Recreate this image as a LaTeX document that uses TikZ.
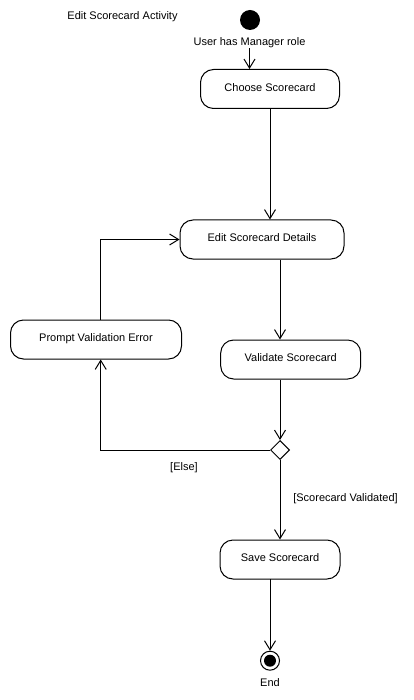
\documentclass[tikz,border=0pt]{standalone}
\usepackage{fontspec}
\setmainfont{Liberation Sans}
\usetikzlibrary{arrows.meta,shapes.geometric,calc}
\begin{document}
\begin{tikzpicture}[x=1pt,y=-1pt,
  every node/.style={font=\fontsize{11}{13}\selectfont, inner sep=0pt},
  act/.style={draw, line width=1pt, rounded corners=13pt, minimum height=39pt},
  flow/.style={draw, line width=1pt, -{Straight Barb[length=9pt,width=11pt,line width=1pt]}},
  plain/.style={draw, line width=1pt},
  lbl/.style={fill=white}
]
\useasboundingbox (0,0) rectangle (414,700);
\fill[white] (0,0) rectangle (414,700);

\node (title) at (122.5,17) {Edit Scorecard Activity};
\node[circle, fill=black, minimum size=20pt] (init) at (250,20) {};
\node (mgr) at (249.5,43) {User has Manager role};

\node[act, minimum width=139pt] (choose) at (270,89) {\raisebox{3pt}{Choose Scorecard}};
\node[act, minimum width=164pt] (edit) at (262,239.5) {\raisebox{3pt}{Edit Scorecard Details}};
\node[act, minimum width=171pt] (prompt) at (96,339.5) {\raisebox{3pt}{Prompt Validation Error}};
\node[act, minimum width=140pt] (valid) at (290.7,359.5) {\raisebox{3pt}{Validate Scorecard}};
\node[diamond, draw, line width=1pt, minimum size=19pt] (dec) at (280,450) {};
\node[act, minimum width=120pt] (save) at (280,559.5) {\raisebox{3pt}{Save Scorecard}};

\node[circle, draw, line width=1pt, minimum size=19pt] (final) at (270,660.7) {};
\fill[black] (final.center) circle (6pt);
\node (endl) at (270,683) {End};

\node (else) at (184,468) {[Else]};
\node (okl) at (345.5,499) {[Scorecard Validated]};

\coordinate (lx) at (100.7,450);

\draw[flow] (mgr.south) -- (mgr.south |- choose.north);
\draw[flow] (choose.south) -- (choose.south |- edit.north);
\draw[flow] (edit.south -| dec) -- (valid.north -| dec);
\draw[flow] (valid.south -| dec) -- (dec.north);
\draw[flow] (dec.west) -- (lx) -- (lx |- prompt.south);
\draw[flow] (lx |- prompt.north) |- (edit.west);
\draw[flow] (dec.south) -- (dec.south |- save.north);
\draw[flow] (270,579) -- (final.north);
\end{tikzpicture}
\end{document}
